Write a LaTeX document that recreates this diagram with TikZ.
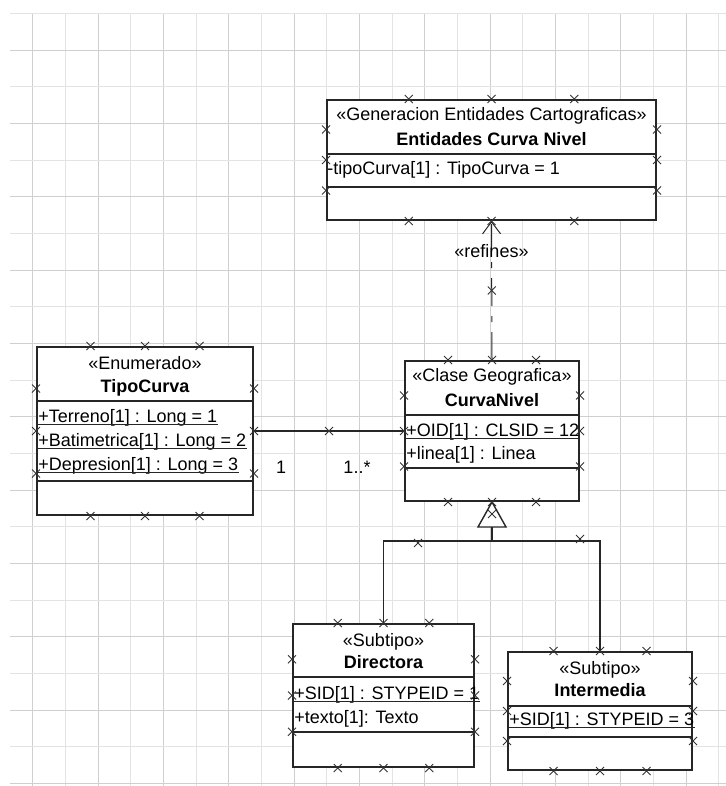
\documentclass[tikz,border=0pt]{standalone}
\usepackage{fontspec}
\setmainfont{Liberation Sans}
\usetikzlibrary{arrows.meta, calc}

\begin{document}
\begin{tikzpicture}[
    x=0.5pt, y=-0.5pt,
    font=\fontsize{9}{11}\selectfont,
    umlbox/.style  ={draw=black!85, line width=1pt, fill=white, inner sep=0pt},
    sepline/.style ={draw=black!85, line width=0.8pt},
    uline/.style   ={draw=black!85, line width=0.6pt},
    stereo/.style  ={inner sep=0pt, anchor=base},
    cname/.style   ={inner sep=0pt, anchor=base, font=\fontsize{9}{11}\selectfont\bfseries},
    attr/.style    ={inner sep=0pt, anchor=base west},
    mult/.style    ={inner sep=0pt},
    assoc/.style   ={draw=black!85, line width=0.7pt},
    refine/.style  ={draw=black!85, line width=0.5pt, dash pattern=on 14pt off 5pt on 3pt off 5pt,
                     -{Straight Barb[length=6pt, width=9pt]}},
    gen/.style     ={draw=black!85, line width=0.7pt},
    gridmaj/.style ={draw=gray!38, line width=0.4pt},
    gridmin/.style ={draw=gray!22, line width=0.4pt},
    xpt/.pic       ={\draw[gray!40!black, line width=0.5pt] (-4,-4) -- (4,4) (-4,4) -- (4,-4);}
]
\useasboundingbox (0,0) rectangle (726,786);

% Grid paper
\foreach \k in {1,...,22}{
  \ifodd\k\relax \draw[gridmaj] (32.67*\k,13) -- (32.67*\k,786);
  \else \draw[gridmin] (32.67*\k,13) -- (32.67*\k,786); \fi
}
\foreach \m in {0,...,21}{
  \ifodd\m\relax \draw[gridmaj] (10,13.3+36.67*\m) -- (726,13.3+36.67*\m);
  \else \draw[gridmin] (10,13.3+36.67*\m) -- (726,13.3+36.67*\m); \fi
}

% Class boxes
\node[umlbox, minimum width=164.5pt, minimum height=60pt]   (ent)   at (491.5,160) {};
\node[umlbox, minimum width=108pt,   minimum height=84pt]   (tipo)  at (145,431)   {};
\node[umlbox, minimum width=87pt,    minimum height=70pt]   (curva) at (492,431)   {};
\node[umlbox, minimum width=90.5pt,  minimum height=71.5pt] (dir)   at (383.5,695.5) {};
\node[umlbox, minimum width=92pt,    minimum height=59pt]   (inter) at (600,711)   {};

% Entidades Curva Nivel
\node[stereo] (entst) at ($(ent.north)+(0,22)$) {«Generacion Entidades Cartograficas»};
\node[cname]  (entnm) at ($(ent.north)+(0,47)$) {Entidades Curva Nivel};
\draw[sepline] ($(ent.north west)+(0,55)$) -- ($(ent.north east)+(0,55)$);
\node[attr]   (enta1) at ($(ent.north west)+(1,76)$) {-tipoCurva[1] : TipoCurva = 1};
\draw[sepline] ($(ent.north west)+(0,88)$) -- ($(ent.north east)+(0,88)$);

% TipoCurva
\node[stereo] (tipost) at ($(tipo.north)+(0,23)$) {«Enumerado»};
\node[cname]  (tiponm) at ($(tipo.north)+(0,46)$) {TipoCurva};
\draw[sepline] ($(tipo.north west)+(0,55)$) -- ($(tipo.north east)+(0,55)$);
\foreach \t/\v [count=\i] in {Terreno/1, Batimetrica/2, Depresion/3}{
  \node[attr] (tipoa\i) at ($(tipo.north west)+(2,52+24*\i)$) {+\t[1] : Long = \v};
  \draw[uline] ($(tipoa\i.base west)+(0,2.5)$) -- ($(tipoa\i.base east)+(0,2.5)$);
}
\draw[sepline] ($(tipo.north west)+(0,135)$) -- ($(tipo.north east)+(0,135)$);

% CurvaNivel
\node[stereo] (curvast) at ($(curva.north)+(0,21)$) {«Clase Geografica»};
\node[cname]  (curvanm) at ($(curva.north)+(0,46)$) {CurvaNivel};
\draw[sepline] ($(curva.north west)+(0,55)$) -- ($(curva.north east)+(0,55)$);
\node[attr]   (curvaa1) at ($(curva.north west)+(2,76)$) {+OID[1] : CLSID = 12};
\draw[uline] ($(curvaa1.base west)+(0,2.5)$) -- ($(curvaa1.base east)+(0,2.5)$);
\node[attr]   (curvaa2) at ($(curva.north west)+(2,99)$) {+linea[1] : Linea};
\draw[sepline] ($(curva.north west)+(0,108)$) -- ($(curva.north east)+(0,108)$);

% Directora
\node[stereo] (dirst) at ($(dir.north)+(0,23)$) {«Subtipo»};
\node[cname]  (dirnm) at ($(dir.north)+(0,45)$) {Directora};
\draw[sepline] ($(dir.north west)+(0,54)$) -- ($(dir.north east)+(0,54)$);
\node[attr]   (dira1) at ($(dir.north west)+(2,76)$) {+SID[1] : STYPEID = 1};
\draw[uline] ($(dira1.base west)+(0,2.5)$) -- ($(dira1.base east)+(0,2.5)$);
\node[attr]   (dira2) at ($(dir.north west)+(2,100)$) {+texto[1]: Texto};
\draw[sepline] ($(dir.north west)+(0,109)$) -- ($(dir.north east)+(0,109)$);

% Intermedia
\node[stereo] (interst) at ($(inter.north)+(0,23)$) {«Subtipo»};
\node[cname]  (internm) at ($(inter.north)+(0,45)$) {Intermedia};
\draw[sepline] ($(inter.north west)+(0,55)$) -- ($(inter.north east)+(0,55)$);
\node[attr]   (intera1) at ($(inter.north west)+(2,74)$) {+SID[1] : STYPEID = 3};
\draw[uline] ($(intera1.base west)+(0,2.5)$) -- ($(intera1.base east)+(0,2.5)$);
\draw[sepline] ($(inter.north west)+(0,86)$) -- ($(inter.north east)+(0,86)$);

% Association TipoCurva -- CurvaNivel
\draw[assoc] (tipo.east) -- (curva.west);
\node[mult] (m1) at ($(tipo.east)+(27,36)$)   {1};
\node[mult] (mn) at ($(curva.west)+(-47,36)$) {1..*};

% Dependency <<refines>>
\draw[refine] (curva.north) -- (ent.south);
\node[mult] (ref) at ($(ent.south)+(0,30)$) {«refines»};

% Generalization
\draw[gen, fill=white] (curva.south) -- ++(-14,25) -- ++(28,0) -- cycle;
\coordinate (tri) at ($(curva.south)+(0,25)$);
\draw[gen] (tri) -- ++(0,14) coordinate (fork);
\draw[gen] (fork) -| (dir.north);
\draw[gen] (fork) -| (inter.north);

% Handles
\foreach \b in {ent,tipo,curva,dir,inter}
  \foreach \f in {0.25,0.5,0.75}{
    \path ($(\b.north west)!\f!(\b.north east)$) pic {xpt};
    \path ($(\b.south west)!\f!(\b.south east)$) pic {xpt};
    \path ($(\b.north west)!\f!(\b.south west)$) pic {xpt};
    \path ($(\b.north east)!\f!(\b.south east)$) pic {xpt};
  }
\path ($(tipo.east)!0.5!(curva.west)$) pic {xpt};
\path ($(curva.north)!0.5!(ent.south)$) pic {xpt};
\path ($(curva.south)+(0,12)$) pic {xpt};
\path ($(fork)+(-74,2)$) pic {xpt};
\path ($(fork)+(88,-2)$) pic {xpt};

\end{tikzpicture}
\end{document}
